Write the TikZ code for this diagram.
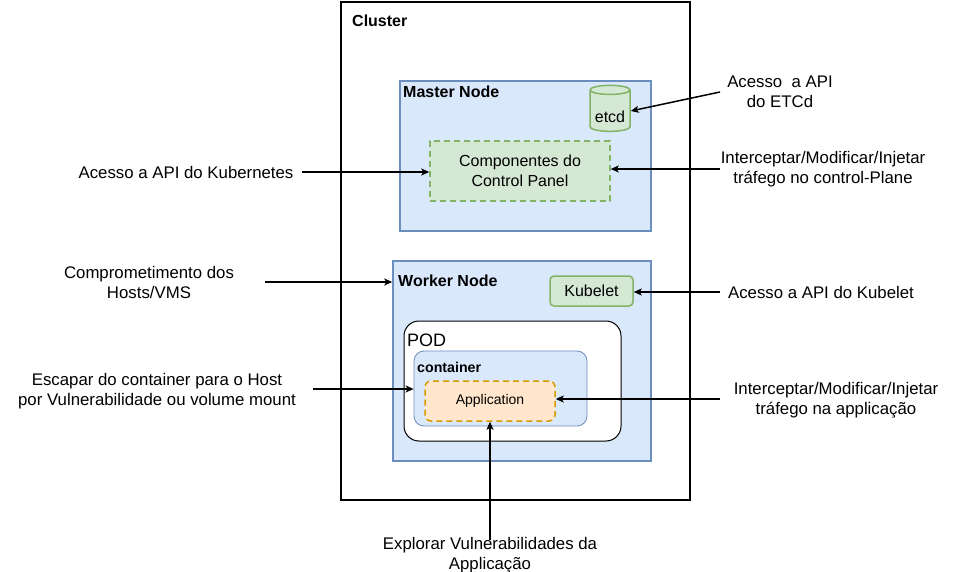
\documentclass[tikz,border=0pt]{standalone}
\usepackage{fontspec}
\setmainfont{Liberation Sans}
\usetikzlibrary{arrows.meta,shapes.geometric}
\definecolor{nodefill}{HTML}{DAE8FC}
\definecolor{nodeline}{HTML}{6C8EBF}
\definecolor{compfill}{HTML}{D5E8D4}
\definecolor{compline}{HTML}{82B366}
\definecolor{appfill}{HTML}{FFE6CC}
\definecolor{appline}{HTML}{D79B00}
\begin{document}
\begin{tikzpicture}[x=1pt,y=-1pt,font=\fontsize{16.8}{20}\selectfont,
	frame/.style={rectangle,draw,line width=1.5pt,inner sep=0,align=center},
	title/.style={anchor=west,inner sep=0,font=\fontsize{16}{19}\selectfont\bfseries},
	label/.style={align=center,inner sep=0}]
	\useasboundingbox (0,0) rectangle (953,572);

	% boxes
	\node (cluster) [frame,minimum width=349,minimum height=498] at (515.5,251) {};
	\node (master) [frame,draw=nodeline,fill=nodefill,minimum width=251,minimum height=150] at (525.5,156) {};
	\node (cp) [frame,draw=compline,fill=compfill,dashed,dash pattern=on 6pt off 4pt,minimum width=180,minimum height=60,font=\fontsize{16}{20}\selectfont] at (520,171) {Componentes do\\Control Panel};
	\node (etcd) [cylinder,shape border rotate=90,aspect=0.3,draw=compline,fill=compfill,line width=1.5pt,minimum width=40,minimum height=46,inner sep=0,font=\fontsize{16}{19}\selectfont] at (610,111) {\raisebox{-12pt}[0pt][0pt]{etcd}};
	\node (worker) [frame,draw=nodeline,fill=nodefill,minimum width=258,minimum height=200] at (522,361) {};
	\node (kubelet) [frame,draw=compline,fill=compfill,rounded corners=4pt,minimum width=83,minimum height=30,font=\fontsize{16}{19}\selectfont] at (591.5,291) {Kubelet};
	\node (pod) [frame,fill=white,line width=1pt,rounded corners=15pt,minimum width=217,minimum height=120] at (512.5,381) {};
	\node (container) [frame,draw=nodeline,fill=nodefill,line width=0.8pt,rounded corners=10pt,minimum width=173,minimum height=75] at (500.5,388.5) {};
	\node (app) [frame,draw=appline,fill=appfill,dashed,dash pattern=on 6pt off 4pt,rounded corners=6pt,minimum width=130,minimum height=40,font=\fontsize{14}{16}\selectfont] at (490,401) {\raisebox{-2pt}{Application}};

	% titles
	\node (tCluster) [title] at (352,21) {Cluster};
	\node (tMaster) [title] at (403,92) {Master Node};
	\node (tWorker) [title] at (398,281) {Worker Node};
	\node (tPod) [title,font=\fontsize{18}{20}\selectfont] at (407,340) {POD};
	\node (tContainer) [title,font=\fontsize{14.2}{16}\selectfont\bfseries] at (417,367) {container};

	% attack labels
	\node (lKube) [label] at (186,172) {Acesso a API do Kubernetes};
	\node (lEtcd) [label] at (780,92) {Acesso\ \ a API\\do ETCd};
	\node (lCp) [label] at (823,169) {Interceptar/Modificar/Injetar\\tráfego no control-Plane};
	\node (lHosts) [label] at (149,282) {Comprometimento dos\\Hosts/VMS};
	\node (lKubelet) [label] at (821,292) {Acesso a API do Kubelet};
	\node (lEscape) [label] at (157,391) {Escapar do container para o Host\\por Vulnerabilidade ou volume mount};
	\node (lApp) [label] at (836,400) {Interceptar/Modificar/Injetar\\tráfego na applicação};
	\node (lExplore) [label] at (490,555) {Explorar Vulnerabilidades da\\Applicação};

	\coordinate (aKube) at (302,172);
	\coordinate (aEtcd) at (720,92);
	\coordinate (aCp) at (720,169);
	\coordinate (aHosts) at (265,282);
	\coordinate (aKubelet) at (720,292);
	\coordinate (aEscape) at (313,389);
	\coordinate (aApp) at (720,399);
	\coordinate (aExplore) at (490,540);

	\begin{scope}[every path/.style={draw=black,line width=1.5pt,-{Stealth[length=8pt,width=7pt,inset=2pt]}}]
		\path (aKube) -- (aKube -| cp.west);
		\path (aEtcd) -- (etcd.east);
		\path (aCp) -- (aCp -| cp.east);
		\path (aHosts) -- (aHosts -| worker.west);
		\path (aKubelet) -- (aKubelet -| kubelet.east);
		\path (aEscape) -- (aEscape -| container.west);
		\path (aApp) -- (aApp -| app.east);
		\path (aExplore) -- (app.south);
	\end{scope}
\end{tikzpicture}
\end{document}
